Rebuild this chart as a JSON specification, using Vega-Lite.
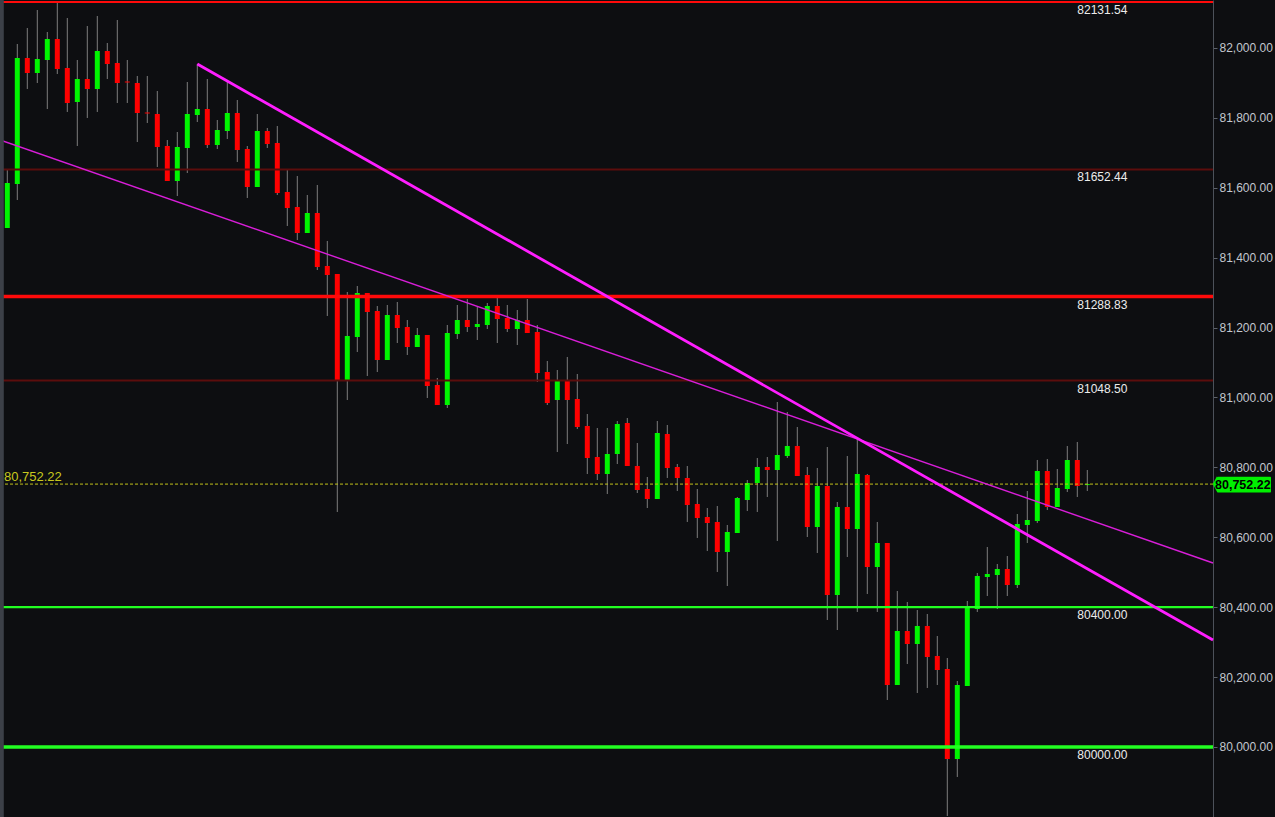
{
  "$schema": "https://vega.github.io/schema/vega-lite/v6.json",
  "width": 1213,
  "height": 817,
  "autosize": {"type": "none"},
  "padding": {"left": 0, "top": 0, "right": 62, "bottom": 0},
  "background": "#0d0e11",
  "config": {"view": {"stroke": null}, "font": "Liberation Sans", "scale": {"continuousPadding": 0}},
  "resolve": {"axis": {"x": "independent", "y": "independent"}},
  "datasets": {
    "candles": [
      {"i":0,"o":81485.0,"h":81650.9,"l":81485.0,"c":81613.7},
      {"i":1,"o":81610.8,"h":82011.4,"l":81565.1,"c":81971.4},
      {"i":2,"o":81971.4,"h":82057.2,"l":81882.7,"c":81928.4},
      {"i":3,"o":81928.4,"h":82108.7,"l":81899.8,"c":81968.5},
      {"i":4,"o":81965.6,"h":82045.7,"l":81825.4,"c":82025.7},
      {"i":5,"o":82025.7,"h":82128.7,"l":81925.6,"c":81939.9},
      {"i":6,"o":81942.7,"h":82085.8,"l":81816.9,"c":81842.6},
      {"i":7,"o":81845.5,"h":81965.6,"l":81719.6,"c":81911.3},
      {"i":8,"o":81911.3,"h":82062.9,"l":81799.7,"c":81882.7},
      {"i":9,"o":81882.7,"h":82091.5,"l":81816.9,"c":81991.4},
      {"i":10,"o":81991.4,"h":82014.3,"l":81911.3,"c":81954.2},
      {"i":11,"o":81957.0,"h":82080.1,"l":81842.6,"c":81899.8},
      {"i":12,"o":81904.1,"h":81965.6,"l":81842.6,"c":81901.3},
      {"i":13,"o":81899.8,"h":81919.9,"l":81731.0,"c":81814.0},
      {"i":14,"o":81815.4,"h":81919.9,"l":81785.4,"c":81812.6},
      {"i":15,"o":81811.1,"h":81876.9,"l":81659.5,"c":81716.7},
      {"i":16,"o":81719.6,"h":81736.7,"l":81619.4,"c":81619.4},
      {"i":17,"o":81619.4,"h":81759.6,"l":81576.5,"c":81716.7},
      {"i":18,"o":81713.8,"h":81902.7,"l":81642.3,"c":81811.1},
      {"i":19,"o":81808.3,"h":81954.2,"l":81788.2,"c":81825.4},
      {"i":20,"o":81825.4,"h":81911.3,"l":81713.8,"c":81722.4},
      {"i":21,"o":81722.4,"h":81794.0,"l":81711.0,"c":81765.3},
      {"i":22,"o":81762.5,"h":81902.7,"l":81739.6,"c":81814.0},
      {"i":23,"o":81814.0,"h":81851.2,"l":81673.8,"c":81708.1},
      {"i":24,"o":81711.0,"h":81719.6,"l":81570.8,"c":81602.3},
      {"i":25,"o":81602.3,"h":81811.1,"l":81602.3,"c":81762.5},
      {"i":26,"o":81762.5,"h":81771.1,"l":81713.8,"c":81725.3},
      {"i":27,"o":81728.2,"h":81776.8,"l":81579.4,"c":81585.1},
      {"i":28,"o":81588.0,"h":81653.8,"l":81490.7,"c":81542.2},
      {"i":29,"o":81545.0,"h":81633.7,"l":81450.6,"c":81470.6},
      {"i":30,"o":81470.6,"h":81579.4,"l":81470.6,"c":81527.9},
      {"i":31,"o":81527.9,"h":81608.0,"l":81364.8,"c":81373.4},
      {"i":32,"o":81376.2,"h":81447.8,"l":81233.2,"c":81350.5},
      {"i":33,"o":81353.3,"h":81353.3,"l":80672.4,"c":81047.2},
      {"i":34,"o":81047.2,"h":81301.8,"l":80992.8,"c":81175.9},
      {"i":35,"o":81173.1,"h":81319.0,"l":81130.2,"c":81299.0},
      {"i":36,"o":81299.0,"h":81299.0,"l":81061.5,"c":81244.6},
      {"i":37,"o":81247.5,"h":81261.8,"l":81072.9,"c":81107.3},
      {"i":38,"o":81107.3,"h":81264.6,"l":81107.3,"c":81236.0},
      {"i":39,"o":81236.0,"h":81273.2,"l":81155.9,"c":81198.8},
      {"i":40,"o":81201.7,"h":81221.7,"l":81121.6,"c":81144.5},
      {"i":41,"o":81144.5,"h":81198.8,"l":81144.5,"c":81178.8},
      {"i":42,"o":81178.8,"h":81178.8,"l":80998.5,"c":81032.9},
      {"i":43,"o":81035.7,"h":81055.8,"l":80978.5,"c":80978.5},
      {"i":44,"o":80978.5,"h":81207.4,"l":80969.9,"c":81184.5},
      {"i":45,"o":81181.7,"h":81264.6,"l":81167.4,"c":81221.7},
      {"i":46,"o":81221.7,"h":81281.8,"l":81187.4,"c":81201.7},
      {"i":47,"o":81201.7,"h":81258.9,"l":81164.5,"c":81210.3},
      {"i":48,"o":81207.4,"h":81270.4,"l":81196.0,"c":81261.8},
      {"i":49,"o":81261.8,"h":81284.7,"l":81155.9,"c":81224.6},
      {"i":50,"o":81227.4,"h":81264.6,"l":81187.4,"c":81196.0},
      {"i":51,"o":81196.0,"h":81250.3,"l":81150.2,"c":81221.7},
      {"i":52,"o":81221.7,"h":81281.8,"l":81184.5,"c":81184.5},
      {"i":53,"o":81187.4,"h":81207.4,"l":81044.3,"c":81070.1},
      {"i":54,"o":81072.9,"h":81104.4,"l":80978.5,"c":80984.2},
      {"i":55,"o":80992.8,"h":81078.7,"l":80844.0,"c":81047.2},
      {"i":56,"o":81047.2,"h":81115.9,"l":80866.9,"c":80992.8},
      {"i":57,"o":80995.7,"h":81067.2,"l":80909.9,"c":80915.6},
      {"i":58,"o":80918.4,"h":80952.8,"l":80781.1,"c":80826.9},
      {"i":59,"o":80829.7,"h":80912.7,"l":80763.9,"c":80781.1},
      {"i":60,"o":80781.1,"h":80912.7,"l":80723.9,"c":80838.3},
      {"i":61,"o":80838.3,"h":80932.7,"l":80809.7,"c":80924.2},
      {"i":62,"o":80927.0,"h":80941.3,"l":80804.0,"c":80804.0},
      {"i":63,"o":80804.0,"h":80869.8,"l":80726.7,"c":80735.3},
      {"i":64,"o":80738.2,"h":80772.5,"l":80683.8,"c":80709.6},
      {"i":65,"o":80709.6,"h":80932.7,"l":80709.6,"c":80898.4},
      {"i":66,"o":80895.5,"h":80921.3,"l":80769.7,"c":80798.3},
      {"i":67,"o":80801.1,"h":80809.7,"l":80732.5,"c":80769.7},
      {"i":68,"o":80769.7,"h":80804.0,"l":80643.8,"c":80692.4},
      {"i":69,"o":80695.3,"h":80738.2,"l":80598.0,"c":80655.2},
      {"i":70,"o":80658.1,"h":80683.8,"l":80560.8,"c":80640.9},
      {"i":71,"o":80643.8,"h":80689.5,"l":80500.7,"c":80557.9},
      {"i":72,"o":80557.9,"h":80635.2,"l":80460.6,"c":80615.1},
      {"i":73,"o":80612.3,"h":80715.3,"l":80612.3,"c":80712.4},
      {"i":74,"o":80706.7,"h":80763.9,"l":80675.2,"c":80755.3},
      {"i":75,"o":80755.3,"h":80826.9,"l":80672.4,"c":80801.1},
      {"i":76,"o":80801.1,"h":80829.7,"l":80715.3,"c":80792.5},
      {"i":77,"o":80792.5,"h":80987.1,"l":80589.4,"c":80835.5},
      {"i":78,"o":80832.6,"h":80958.5,"l":80826.9,"c":80861.2},
      {"i":79,"o":80861.2,"h":80915.6,"l":80775.4,"c":80775.4},
      {"i":80,"o":80778.2,"h":80801.1,"l":80600.8,"c":80629.5},
      {"i":81,"o":80629.5,"h":80798.3,"l":80555.1,"c":80746.8},
      {"i":82,"o":80746.8,"h":80858.3,"l":80363.4,"c":80434.9},
      {"i":83,"o":80434.9,"h":80701.0,"l":80334.7,"c":80686.7},
      {"i":84,"o":80686.7,"h":80832.6,"l":80543.6,"c":80623.7},
      {"i":85,"o":80623.7,"h":80878.4,"l":80386.3,"c":80781.1},
      {"i":86,"o":80778.2,"h":80781.1,"l":80437.8,"c":80515.0},
      {"i":87,"o":80515.0,"h":80643.8,"l":80386.3,"c":80583.7},
      {"i":88,"o":80583.7,"h":80583.7,"l":80134.5,"c":80177.4},
      {"i":89,"o":80177.4,"h":80446.3,"l":80177.4,"c":80331.9},
      {"i":90,"o":80331.9,"h":80414.9,"l":80237.5,"c":80294.7},
      {"i":91,"o":80294.7,"h":80392.0,"l":80154.5,"c":80346.2},
      {"i":92,"o":80346.2,"h":80380.5,"l":80168.8,"c":80257.5},
      {"i":93,"o":80260.4,"h":80317.6,"l":80177.4,"c":80220.3},
      {"i":94,"o":80223.2,"h":80254.6,"l":79802.6,"c":79965.7},
      {"i":95,"o":79965.7,"h":80188.8,"l":79914.2,"c":80177.4},
      {"i":96,"o":80174.5,"h":80417.7,"l":80174.5,"c":80400.6},
      {"i":97,"o":80394.8,"h":80497.8,"l":80386.3,"c":80489.3},
      {"i":98,"o":80486.4,"h":80572.2,"l":80432.0,"c":80495.0},
      {"i":99,"o":80492.1,"h":80523.6,"l":80394.8,"c":80509.3},
      {"i":100,"o":80509.3,"h":80546.5,"l":80432.0,"c":80463.5},
      {"i":101,"o":80463.5,"h":80666.6,"l":80454.9,"c":80638.0},
      {"i":102,"o":80635.2,"h":80732.5,"l":80583.7,"c":80649.5},
      {"i":103,"o":80646.6,"h":80821.2,"l":80640.9,"c":80789.7},
      {"i":104,"o":80789.7,"h":80824.0,"l":80678.1,"c":80686.7},
      {"i":105,"o":80686.7,"h":80795.4,"l":80686.7,"c":80741.0},
      {"i":106,"o":80738.2,"h":80861.2,"l":80729.6,"c":80821.2},
      {"i":107,"o":80821.2,"h":80872.7,"l":80715.3,"c":80746.8},
      {"i":108,"o":80749.4,"h":80792.5,"l":80732.5,"c":80752.22}
    ],
    "levels": [
      {"v":82131.54,"kind":"top"},
      {"v":81652.44,"kind":"minor"},
      {"v":81288.83,"kind":"major"},
      {"v":81048.50,"kind":"minor"},
      {"v":80400.00,"kind":"support"},
      {"v":80000.00,"kind":"strong"}
    ],
    "trendThick": [
      {"i":19,"p":81954.2},
      {"i":120.57,"p":80306.0}
    ],
    "trendThin": [
      {"i":-0.73,"p":81736.7},
      {"i":120.57,"p":80526.4}
    ],
    "last": [
      {"p":80752.22}
    ]
  },
  "layer": [
    {
      "data": {"name": "candles"},
      "mark": {"type": "rule", "color": "#7e7e7e", "strokeWidth": 1},
      "encoding": {
        "x": {"field": "i", "type": "quantitative", "scale": {"domain": [-0.73, 120.57], "nice": false, "zero": false, "padding": 0}, "axis": null},
        "y": {"field": "l", "type": "quantitative", "scale": {"domain": [79799.7, 82137.3], "nice": false, "zero": false, "padding": 0},
          "axis": {"orient": "right", "title": null, "values": [80000,80200,80400,80600,80800,81000,81200,81400,81600,81800,82000], "format": ",.2f", "labelColor": "#c3c7ce", "labelFontSize": 12, "labelFont": "Liberation Sans", "tickSize": 4, "tickColor": "#5d626b", "domainColor": "#4c515a", "labelPadding": 2, "grid": false}},
        "y2": {"field": "h"}
      }
    },
    {
      "data": {"name": "candles"},
      "mark": {"type": "bar", "width": 5},
      "encoding": {
        "x": {"field": "i", "type": "quantitative", "scale": {"domain": [-0.73, 120.57], "nice": false, "zero": false, "padding": 0}, "axis": null},
        "y": {"field": "o", "type": "quantitative", "scale": {"domain": [79799.7, 82137.3], "nice": false, "zero": false, "padding": 0}, "axis": null},
        "y2": {"field": "c"},
        "color": {"condition": {"test": "datum.c >= datum.o", "value": "#00f500"}, "value": "#ff0000"}
      }
    },
    {
      "data": {"name": "levels"},
      "transform": [{"filter": "datum.kind == 'minor'"}],
      "mark": {"type": "rule", "color": "#5c0d0d", "strokeWidth": 2},
      "encoding": {
        "y": {"field": "v", "type": "quantitative", "scale": {"domain": [79799.7, 82137.3], "nice": false, "zero": false, "padding": 0}, "axis": null}
      }
    },
    {
      "data": {"name": "levels"},
      "transform": [{"filter": "datum.kind == 'top'"}],
      "mark": {"type": "rule", "color": "#ff0a0a", "strokeWidth": 2},
      "encoding": {
        "y": {"field": "v", "type": "quantitative", "scale": {"domain": [79799.7, 82137.3], "nice": false, "zero": false, "padding": 0}, "axis": null}
      }
    },
    {
      "data": {"name": "levels"},
      "transform": [{"filter": "datum.kind == 'major'"}],
      "mark": {"type": "rule", "color": "#ff0a0a", "strokeWidth": 3.5},
      "encoding": {
        "y": {"field": "v", "type": "quantitative", "scale": {"domain": [79799.7, 82137.3], "nice": false, "zero": false, "padding": 0}, "axis": null}
      }
    },
    {
      "data": {"name": "levels"},
      "transform": [{"filter": "datum.kind == 'support'"}],
      "mark": {"type": "rule", "color": "#22ff22", "strokeWidth": 2.2},
      "encoding": {
        "y": {"field": "v", "type": "quantitative", "scale": {"domain": [79799.7, 82137.3], "nice": false, "zero": false, "padding": 0}, "axis": null}
      }
    },
    {
      "data": {"name": "levels"},
      "transform": [{"filter": "datum.kind == 'strong'"}],
      "mark": {"type": "rule", "color": "#22ff22", "strokeWidth": 3.6},
      "encoding": {
        "y": {"field": "v", "type": "quantitative", "scale": {"domain": [79799.7, 82137.3], "nice": false, "zero": false, "padding": 0}, "axis": null}
      }
    },
    {
      "data": {"name": "levels"},
      "mark": {"type": "text", "align": "left", "baseline": "top", "dy": 3, "color": "#ececec", "fontSize": 12, "font": "Liberation Sans"},
      "encoding": {
        "x": {"datum": 107, "type": "quantitative", "scale": {"domain": [-0.73, 120.57], "nice": false, "zero": false, "padding": 0}, "axis": null},
        "y": {"field": "v", "type": "quantitative", "scale": {"domain": [79799.7, 82137.3], "nice": false, "zero": false, "padding": 0}, "axis": null},
        "text": {"field": "v", "type": "quantitative", "format": ".2f"}
      }
    },
    {
      "data": {"name": "last"},
      "mark": {"type": "rule", "color": "#c2c21a", "strokeWidth": 1, "strokeDash": [3, 2]},
      "encoding": {
        "y": {"field": "p", "type": "quantitative", "scale": {"domain": [79799.7, 82137.3], "nice": false, "zero": false, "padding": 0}, "axis": null}
      }
    },
    {
      "data": {"name": "trendThin"},
      "mark": {"type": "line", "color": "#d81ed8", "strokeWidth": 1.4},
      "encoding": {
        "x": {"field": "i", "type": "quantitative", "scale": {"domain": [-0.73, 120.57], "nice": false, "zero": false, "padding": 0}, "axis": null},
        "y": {"field": "p", "type": "quantitative", "scale": {"domain": [79799.7, 82137.3], "nice": false, "zero": false, "padding": 0}, "axis": null}
      }
    },
    {
      "data": {"name": "trendThick"},
      "mark": {"type": "line", "color": "#ff1eff", "strokeWidth": 2.8},
      "encoding": {
        "x": {"field": "i", "type": "quantitative", "scale": {"domain": [-0.73, 120.57], "nice": false, "zero": false, "padding": 0}, "axis": null},
        "y": {"field": "p", "type": "quantitative", "scale": {"domain": [79799.7, 82137.3], "nice": false, "zero": false, "padding": 0}, "axis": null}
      }
    },
    {
      "data": {"name": "last"},
      "mark": {"type": "rect", "color": "#3c4048"},
      "encoding": {
        "x": {"datum": -0.73, "type": "quantitative", "scale": {"domain": [-0.73, 120.57], "nice": false, "zero": false, "padding": 0}, "axis": null},
        "x2": {"datum": -0.35}
      }
    },
    {
      "data": {"name": "last"},
      "mark": {"type": "text", "align": "left", "baseline": "alphabetic", "dy": -3, "color": "#c8c81e", "fontSize": 13, "font": "Liberation Sans"},
      "encoding": {
        "x": {"datum": -0.33, "type": "quantitative", "scale": {"domain": [-0.73, 120.57], "nice": false, "zero": false, "padding": 0}, "axis": null},
        "y": {"field": "p", "type": "quantitative", "scale": {"domain": [79799.7, 82137.3], "nice": false, "zero": false, "padding": 0}, "axis": null},
        "text": {"field": "p", "type": "quantitative", "format": ",.2f"}
      }
    },
    {
      "data": {"name": "last"},
      "mark": {"type": "rect", "color": "#00f000", "cornerRadius": 1},
      "encoding": {
        "x": {"datum": 120.97, "type": "quantitative", "scale": {"domain": [-0.73, 120.57], "nice": false, "zero": false, "padding": 0}, "axis": null},
        "x2": {"datum": 126.37},
        "y": {"datum": 80773.0, "type": "quantitative", "scale": {"domain": [79799.7, 82137.3], "nice": false, "zero": false, "padding": 0}, "axis": null},
        "y2": {"datum": 80728.0}
      }
    },
    {
      "data": {"name": "last"},
      "mark": {"type": "point", "filled": true, "color": "#00f000", "opacity": 1, "shape": "M 0 -1 L -0.55 0 L 0 1 Z", "size": 240},
      "encoding": {
        "x": {"datum": 120.97, "type": "quantitative", "scale": {"domain": [-0.73, 120.57], "nice": false, "zero": false, "padding": 0}, "axis": null},
        "y": {"field": "p", "type": "quantitative", "scale": {"domain": [79799.7, 82137.3], "nice": false, "zero": false, "padding": 0}, "axis": null}
      }
    },
    {
      "data": {"name": "last"},
      "mark": {"type": "text", "align": "center", "baseline": "middle", "dy": 1, "color": "#000000", "fontSize": 12.5, "fontWeight": "bold", "font": "Liberation Sans"},
      "encoding": {
        "x": {"datum": 123.55, "type": "quantitative", "scale": {"domain": [-0.73, 120.57], "nice": false, "zero": false, "padding": 0}, "axis": null},
        "y": {"field": "p", "type": "quantitative", "scale": {"domain": [79799.7, 82137.3], "nice": false, "zero": false, "padding": 0}, "axis": null},
        "text": {"field": "p", "type": "quantitative", "format": ",.2f"}
      }
    }
  ]
}
